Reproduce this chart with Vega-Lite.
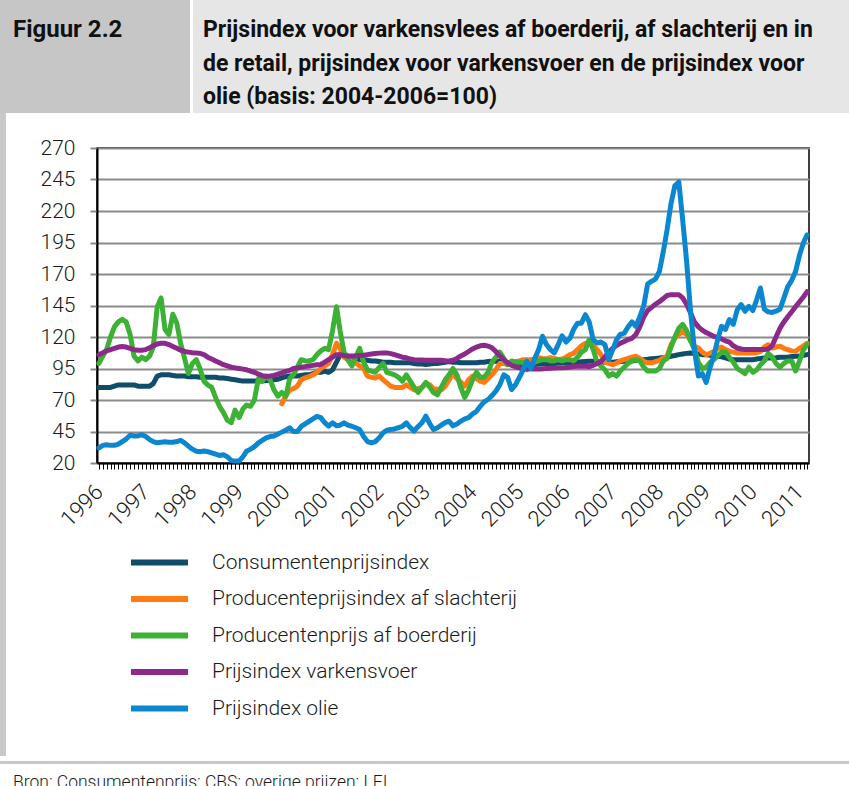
{
"$schema": "https://vega.github.io/schema/vega-lite/v6.json",
"padding": 0,
"spacing": 0,
"config": {"view": {"stroke": null}, "font": "Roboto", "concat": {"spacing": 0}},
"datasets": {"m": [
{"d":"1996-01","c":80,"g":99,"p":106,"b":32},
{"d":"1996-02","c":80,"g":105,"p":107.5,"b":34},
{"d":"1996-03","c":80,"g":110,"p":109,"b":34.5},
{"d":"1996-04","c":80,"g":120,"p":110,"b":34},
{"d":"1996-05","c":81,"g":128,"p":111,"b":34},
{"d":"1996-06","c":82,"g":132,"p":112,"b":35},
{"d":"1996-07","c":82,"g":134,"p":112.5,"b":37},
{"d":"1996-08","c":82,"g":132,"p":112,"b":39},
{"d":"1996-09","c":82,"g":122,"p":111,"b":42},
{"d":"1996-10","c":82,"g":105,"p":110,"b":41.5},
{"d":"1996-11","c":81,"g":101,"p":109.5,"b":41.5},
{"d":"1996-12","c":81,"g":104,"p":109.5,"b":42.5},
{"d":"1997-01","c":81,"g":102,"p":110,"b":41},
{"d":"1997-02","c":81,"g":105,"p":111.5,"b":38.6},
{"d":"1997-03","c":83,"g":112,"p":113,"b":37},
{"d":"1997-04","c":89,"g":144,"p":114.5,"b":36},
{"d":"1997-05","c":90,"g":151,"p":115,"b":36.5},
{"d":"1997-06","c":90,"g":126,"p":115,"b":36.8},
{"d":"1997-07","c":90,"g":122,"p":114,"b":36.5},
{"d":"1997-08","c":89.5,"g":138,"p":112.5,"b":36.5},
{"d":"1997-09","c":89,"g":131,"p":111,"b":37},
{"d":"1997-10","c":89,"g":115,"p":109.5,"b":38},
{"d":"1997-11","c":89,"g":103,"p":108.5,"b":36},
{"d":"1997-12","c":88.5,"g":91,"p":108,"b":33.4},
{"d":"1998-01","c":88.5,"g":99,"p":107.5,"b":31},
{"d":"1998-02","c":88.5,"g":102,"p":107.3,"b":29.4},
{"d":"1998-03","c":88,"g":95,"p":107,"b":29},
{"d":"1998-04","c":88,"g":85,"p":106,"b":29.5},
{"d":"1998-05","c":88,"g":82,"p":104,"b":29},
{"d":"1998-06","c":88,"g":80,"p":102.5,"b":28},
{"d":"1998-07","c":88,"g":72,"p":101,"b":27},
{"d":"1998-08","c":87.5,"g":65,"p":99.5,"b":26},
{"d":"1998-09","c":87.5,"g":60,"p":98,"b":26.5},
{"d":"1998-10","c":87,"g":54,"p":97,"b":25},
{"d":"1998-11","c":86.5,"g":52,"p":96,"b":22},
{"d":"1998-12","c":86,"g":62,"p":95.5,"b":21.5},
{"d":"1999-01","c":85.5,"g":56,"p":95,"b":21.5},
{"d":"1999-02","c":85,"g":63,"p":94.5,"b":25},
{"d":"1999-03","c":85,"g":66,"p":94,"b":29.4},
{"d":"1999-04","c":85,"g":65,"p":93,"b":31},
{"d":"1999-05","c":85,"g":70,"p":92,"b":33},
{"d":"1999-06","c":85,"g":87,"p":90.5,"b":36},
{"d":"1999-07","c":85,"g":85,"p":89.3,"b":38},
{"d":"1999-08","c":85.5,"g":89,"p":88.7,"b":40},
{"d":"1999-09","c":85.5,"g":86,"p":89,"b":41},
{"d":"1999-10","c":86,"g":78,"p":89.5,"b":41.5},
{"d":"1999-11","c":86.5,"g":73,"p":90.5,"b":43},
{"d":"1999-12","c":87.5,"o":67,"g":76,"p":91.5,"b":44.5},
{"d":"2000-01","c":88.5,"o":73,"g":73,"p":92.7,"b":46},
{"d":"2000-02","c":89,"o":78,"g":87,"p":93.5,"b":47.9},
{"d":"2000-03","c":89,"o":79,"g":90,"p":95,"b":45},
{"d":"2000-04","c":89,"o":81,"g":96,"p":95.5,"b":45},
{"d":"2000-05","c":89.5,"o":86,"g":102,"p":96,"b":49},
{"d":"2000-06","c":90,"o":87.6,"g":101,"p":96.5,"b":51},
{"d":"2000-07","c":90,"o":88.5,"g":101,"p":97,"b":53},
{"d":"2000-08","c":91,"o":90,"g":102,"p":97.5,"b":55},
{"d":"2000-09","c":92,"o":92,"g":106,"p":98,"b":57},
{"d":"2000-10","c":92,"o":95,"g":109,"p":98.2,"b":56},
{"d":"2000-11","c":93,"o":97,"g":111,"p":100,"b":52},
{"d":"2000-12","c":92,"o":99,"g":110,"p":102,"b":49.2},
{"d":"2001-01","c":94,"o":106,"g":125,"p":104,"b":51.9},
{"d":"2001-02","c":100,"o":115,"g":144,"p":106,"b":49.5},
{"d":"2001-03","c":106,"o":111,"g":125,"p":106,"b":50},
{"d":"2001-04","c":105,"o":104,"g":108,"p":105.3,"b":51.9},
{"d":"2001-05","c":105,"o":102,"g":102,"p":104.8,"b":50},
{"d":"2001-06","c":104,"o":101,"g":97,"p":105,"b":49.2},
{"d":"2001-07","c":103,"o":99.5,"g":104,"p":105,"b":48},
{"d":"2001-08","c":102,"o":97,"g":111,"p":105.3,"b":46.6},
{"d":"2001-09","c":102,"o":95,"g":100,"p":105.5,"b":41},
{"d":"2001-10","c":101.5,"o":89,"g":94,"p":106,"b":37},
{"d":"2001-11","c":101,"o":88,"g":93,"p":106.5,"b":36},
{"d":"2001-12","c":101,"o":87.5,"g":92,"p":106.9,"b":37},
{"d":"2002-01","c":100.5,"o":89,"g":96,"p":107.2,"b":40},
{"d":"2002-02","c":100,"o":86,"g":99,"p":107.4,"b":44},
{"d":"2002-03","c":100,"o":83.6,"g":92,"p":107.4,"b":46},
{"d":"2002-04","c":100,"o":81,"g":91,"p":106.8,"b":46.6},
{"d":"2002-05","c":99.5,"o":80,"g":90,"p":106,"b":47},
{"d":"2002-06","c":99.5,"o":80,"g":88,"p":105,"b":48},
{"d":"2002-07","c":99.5,"o":80,"g":85,"p":104,"b":49},
{"d":"2002-08","c":99.5,"o":82,"g":90,"p":103.5,"b":51.9},
{"d":"2002-09","c":99.5,"o":80,"g":85,"p":102.5,"b":48},
{"d":"2002-10","c":99,"o":78,"g":80,"p":102,"b":45.3},
{"d":"2002-11","c":98.5,"o":79,"g":76,"p":101.8,"b":49},
{"d":"2002-12","c":98.5,"o":80,"g":80,"p":101.7,"b":52},
{"d":"2003-01","c":98.2,"o":83,"g":84,"p":101.6,"b":57.2},
{"d":"2003-02","c":98.5,"o":82,"g":80,"p":101.6,"b":51},
{"d":"2003-03","c":99,"o":79,"g":76,"p":101.6,"b":46.6},
{"d":"2003-04","c":99,"o":78.5,"g":74,"p":101.6,"b":48},
{"d":"2003-05","c":99.5,"o":78,"g":80,"p":101.5,"b":50},
{"d":"2003-06","c":100,"o":81,"g":86,"p":101.2,"b":52},
{"d":"2003-07","c":100.5,"o":86,"g":90,"p":101,"b":53.2},
{"d":"2003-08","c":100,"o":91,"g":95,"p":101.6,"b":49.5},
{"d":"2003-09","c":100,"o":87,"g":90,"p":103,"b":51},
{"d":"2003-10","c":99.5,"o":84,"g":80,"p":105,"b":53.2},
{"d":"2003-11","c":99.5,"o":81,"g":72,"p":106.5,"b":55},
{"d":"2003-12","c":99.5,"o":86,"g":78,"p":108.5,"b":56},
{"d":"2004-01","c":99.5,"o":89,"g":86,"p":110.5,"b":59},
{"d":"2004-02","c":99.5,"o":87,"g":92,"p":112,"b":61},
{"d":"2004-03","c":100,"o":85,"g":88,"p":113,"b":65},
{"d":"2004-04","c":100,"o":84,"g":88,"p":113.5,"b":68.5},
{"d":"2004-05","c":100.5,"o":87,"g":92,"p":112.8,"b":70.4},
{"d":"2004-06","c":100.8,"o":90,"g":100,"p":111.4,"b":73.5},
{"d":"2004-07","c":100.8,"o":94,"g":104,"p":108.5,"b":77},
{"d":"2004-08","c":100.5,"o":99,"g":108,"p":105,"b":82},
{"d":"2004-09","c":100,"o":99,"g":103,"p":102,"b":90},
{"d":"2004-10","c":99.5,"o":98,"g":98,"p":99.5,"b":88},
{"d":"2004-11","c":99.5,"o":99.5,"g":101,"p":97.5,"b":78.3},
{"d":"2004-12","c":99,"o":100.5,"g":100,"p":96.5,"b":82},
{"d":"2005-01","c":98.5,"o":101,"g":100,"p":95.5,"b":88},
{"d":"2005-02","c":98.5,"o":102,"g":100,"p":95,"b":94},
{"d":"2005-03","c":98.2,"o":102,"g":94,"p":94.8,"b":100.8},
{"d":"2005-04","c":98.2,"o":102,"g":97,"p":94.7,"b":95},
{"d":"2005-05","c":98.2,"o":102.5,"g":100,"p":94.7,"b":103},
{"d":"2005-06","c":98.5,"o":103.5,"g":101,"p":94.7,"b":110},
{"d":"2005-07","c":98.5,"o":103,"g":102,"p":94.7,"b":120.6},
{"d":"2005-08","c":99,"o":102.7,"g":102,"p":95,"b":114},
{"d":"2005-09","c":99,"o":103.5,"g":101,"p":95.2,"b":110},
{"d":"2005-10","c":99,"o":103,"g":101,"p":95.4,"b":107.4},
{"d":"2005-11","c":99.5,"o":102,"g":102,"p":95.5,"b":114},
{"d":"2005-12","c":99.5,"o":102.5,"g":101,"p":95.5,"b":121},
{"d":"2006-01","c":99.5,"o":104,"g":102,"p":95.8,"b":116},
{"d":"2006-02","c":99.7,"o":106,"g":102,"p":96.2,"b":119},
{"d":"2006-03","c":100,"o":107,"g":101,"p":96.6,"b":126},
{"d":"2006-04","c":100,"o":110,"g":104,"p":96.7,"b":131},
{"d":"2006-05","c":100.3,"o":113,"g":108,"p":96.7,"b":131},
{"d":"2006-06","c":100.5,"o":115,"g":110,"p":96.7,"b":137.7},
{"d":"2006-07","c":100.7,"o":115,"g":118,"p":96.5,"b":132},
{"d":"2006-08","c":100.7,"o":113,"g":110,"p":97.5,"b":118},
{"d":"2006-09","c":100.5,"o":110,"g":100,"p":99,"b":115.2},
{"d":"2006-10","c":100.3,"o":106,"g":97,"p":100.5,"b":116},
{"d":"2006-11","c":100,"o":100,"g":94,"p":104,"b":114},
{"d":"2006-12","c":100,"o":99,"g":89,"p":108,"b":102},
{"d":"2007-01","c":100,"o":98,"g":91,"p":111,"b":110},
{"d":"2007-02","c":100.3,"o":99.4,"g":89,"p":113.5,"b":118},
{"d":"2007-03","c":100.5,"o":101,"g":93,"p":115,"b":122},
{"d":"2007-04","c":100.7,"o":102,"g":96,"p":116.5,"b":123},
{"d":"2007-05","c":100.7,"o":103,"g":99,"p":118,"b":128},
{"d":"2007-06","c":101,"o":104,"g":101,"p":119,"b":132},
{"d":"2007-07","c":101.5,"o":104.7,"g":102,"p":122,"b":128.5},
{"d":"2007-08","c":102,"o":103,"g":101,"p":128,"b":136},
{"d":"2007-09","c":102,"o":100.7,"g":96,"p":136,"b":145},
{"d":"2007-10","c":102.3,"o":99.5,"g":93,"p":141,"b":162},
{"d":"2007-11","c":102.7,"o":99.5,"g":93,"p":143.5,"b":164.2},
{"d":"2007-12","c":103,"o":100.5,"g":93,"p":146,"b":166},
{"d":"2008-01","c":103.3,"o":101.5,"g":95,"p":148,"b":172},
{"d":"2008-02","c":103.7,"o":103.5,"g":101,"p":150.5,"b":188},
{"d":"2008-03","c":104,"o":104.7,"g":103,"p":153,"b":205},
{"d":"2008-04","c":104.7,"o":113.9,"g":112,"p":153.6,"b":226},
{"d":"2008-05","c":105.3,"o":119,"g":120,"p":153.6,"b":240},
{"d":"2008-06","c":106,"o":122,"g":127,"p":153.6,"b":243},
{"d":"2008-07","c":106.5,"o":124.5,"g":130,"p":151,"b":213},
{"d":"2008-08","c":107,"o":122,"g":125,"p":146,"b":180},
{"d":"2008-09","c":107.3,"o":117,"g":117,"p":139,"b":140},
{"d":"2008-10","c":107,"o":112.6,"g":110,"p":132,"b":110},
{"d":"2008-11","c":106.5,"o":111.3,"g":100,"p":128,"b":89},
{"d":"2008-12","c":106,"o":108,"g":95,"p":125.5,"b":91},
{"d":"2009-01","c":106,"o":106,"g":96,"p":123.5,"b":84},
{"d":"2009-02","c":105.5,"o":107,"g":100,"p":122,"b":96},
{"d":"2009-03","c":105,"o":108.6,"g":102,"p":120.5,"b":104.7},
{"d":"2009-04","c":104.7,"o":111,"g":105,"p":119.5,"b":118},
{"d":"2009-05","c":104.3,"o":112,"g":108,"p":118.5,"b":128.5},
{"d":"2009-06","c":103.5,"o":110,"g":108,"p":117,"b":126},
{"d":"2009-07","c":102.5,"o":108.6,"g":104,"p":116,"b":133.8},
{"d":"2009-08","c":102,"o":108,"g":100,"p":113,"b":130},
{"d":"2009-09","c":102,"o":107.3,"g":95,"p":111.3,"b":141.7},
{"d":"2009-10","c":102,"o":107.3,"g":93,"p":110.5,"b":145.7},
{"d":"2009-11","c":102,"o":107.3,"g":91,"p":110,"b":140.4},
{"d":"2009-12","c":102,"o":107.3,"g":96,"p":110,"b":144.3},
{"d":"2010-01","c":102,"o":107.3,"g":92,"p":110,"b":141},
{"d":"2010-02","c":102.5,"o":107.5,"g":94,"p":110,"b":150},
{"d":"2010-03","c":103,"o":108.6,"g":98,"p":110,"b":158.9},
{"d":"2010-04","c":103.3,"o":112,"g":101,"p":110,"b":142},
{"d":"2010-05","c":103.3,"o":113.9,"g":107,"p":110.5,"b":140},
{"d":"2010-06","c":103.3,"o":111.3,"g":104,"p":113,"b":139.5},
{"d":"2010-07","c":103.5,"o":112,"g":99,"p":120,"b":140.5},
{"d":"2010-08","c":104,"o":112.6,"g":96,"p":127,"b":142},
{"d":"2010-09","c":104,"o":111,"g":99,"p":132,"b":151},
{"d":"2010-10","c":104,"o":110,"g":101,"p":136,"b":160},
{"d":"2010-11","c":104.5,"o":109,"g":101,"p":140,"b":165},
{"d":"2010-12","c":104.7,"o":108.6,"g":93,"p":144,"b":172},
{"d":"2011-01","c":105,"o":111,"g":101,"p":148,"b":185},
{"d":"2011-02","c":105.5,"o":113,"g":110,"p":152,"b":195},
{"d":"2011-03","c":106,"o":115,"g":114,"p":156,"b":201}
]},
"vconcat": [
 {"hconcat": [
   {"width": 190, "height": 113, "view": {"fill": "#c6c6c6", "stroke": null},
    "data": {"values": [{"t": "Figuur 2.2", "r": 1}]},
    "mark": {"type": "text", "align": "left", "baseline": "middle", "dx": 13, "fontSize": 24, "fontWeight": "bold", "color": "#111111"},
    "encoding": {
      "text": {"field": "t"},
      "x": {"datum": 0, "type": "quantitative", "scale": {"domain": [0, 1]}, "axis": null},
      "y": {"field": "r", "type": "ordinal", "scale": {"type": "point", "domain": [1, 2, 3], "range": [30, 97], "padding": 0}, "axis": null}
    }},
   {"width": 656, "height": 113, "view": {"fill": "#e6e6e6", "stroke": null},
    "data": {"values": [
      {"t": "Prijsindex voor varkensvlees af boerderij, af slachterij en in", "r": 1},
      {"t": "de retail, prijsindex voor varkensvoer en de prijsindex voor", "r": 2},
      {"t": "olie (basis: 2004-2006=100)", "r": 3}
    ]},
    "mark": {"type": "text", "align": "left", "baseline": "middle", "dx": 10, "fontSize": 23, "fontWeight": "bold", "color": "#111111"},
    "encoding": {
      "text": {"field": "t"},
      "x": {"datum": 0, "type": "quantitative", "scale": {"domain": [0, 1]}, "axis": null},
      "y": {"field": "r", "type": "ordinal", "scale": {"type": "point", "domain": [1, 2, 3], "range": [30, 97], "padding": 0}, "axis": null}
    }}
  ], "spacing": 3},
 {"hconcat": [
   {"width": 6, "height": 643, "view": {"fill": "#c8c8c8", "stroke": null},
    "data": {"values": [{}]}, "mark": "text", "encoding": {}},
   {"vconcat": [
     {"width": 10, "height": 23, "data": {"values": [{}]}, "mark": "text", "encoding": {}},
     {"width": 712, "height": 315,
      "data": {"name": "m"},
      "transform": [{"fold": ["c", "o", "g", "p", "b"], "as": ["s", "v"]}],
      "view": {"stroke": "#000000", "strokeWidth": 1.5},
      "mark": {"type": "line", "strokeWidth": 5, "strokeJoin": "round", "strokeCap": "round"},
      "encoding": {
        "x": {"field": "d", "type": "temporal",
          "scale": {"type": "utc", "domain": [{"year": 1995, "month": 12, "date": 17, "utc": true}, {"year": 2011, "month": 3, "date": 16, "utc": true}]},
          "axis": {"title": null, "tickCount": {"interval": "month", "step": 1},
            "labelExpr": "utcmonth(datum.value) == 0 ? utcFormat(datum.value, '%Y') : ''",
            "labelAngle": -45, "labelAlign": "right", "labelBaseline": "middle",
            "labelFontSize": 22, "labelFontWeight": 300, "labelColor": "#1a1a1a", "labelOverlap": false, "labelBound": false, "labelFlush": false,
            "labelPadding": 19, "tickSize": 6, "tickColor": "#000000", "tickWidth": 1,
            "domainColor": "#000000", "domainWidth": 2, "grid": false}},
        "y": {"field": "v", "type": "quantitative",
          "scale": {"domain": [20, 270], "nice": false, "zero": false},
          "axis": {"title": null, "values": [20, 45, 70, 95, 120, 145, 170, 195, 220, 245, 270],
            "grid": true, "gridColor": "#8c8c8c", "gridWidth": 2,
            "tickSize": 7, "tickColor": "#8c8c8c", "tickWidth": 2,
            "domainColor": "#000000", "domainWidth": 2,
            "labelFontSize": 21, "labelFontWeight": 300, "labelPadding": 15, "labelColor": "#1a1a1a",
            "minExtent": 90, "maxExtent": 90}},
        "color": {"field": "s", "type": "nominal",
          "scale": {"domain": ["c", "o", "g", "p", "b"], "range": ["#0f4d6b", "#ff7a10", "#3cb136", "#8c2a8c", "#0a87cf"]},
          "legend": {"title": null, "orient": "none", "legendX": 147, "legendY": 550, "direction": "vertical",
            "symbolType": "M-3,0H3", "symbolSize": 361, "symbolStrokeWidth": 6,
            "labelFontSize": 21, "labelFontWeight": 300, "labelColor": "#1a1a1a", "labelOffset": 40, "rowPadding": 11.5, "padding": 0, "labelLimit": 0,
            "labelExpr": "datum.label == 'c' ? 'Consumentenprijsindex' : datum.label == 'o' ? 'Producenteprijsindex af slachterij' : datum.label == 'g' ? 'Producentenprijs af boerderij' : datum.label == 'p' ? 'Prijsindex varkensvoer' : 'Prijsindex olie'"}}
      }}
   ], "spacing": 0}
  ], "spacing": 0},
 {"width": 849, "height": 3, "view": {"fill": "#c8c8c8", "stroke": null},
  "data": {"values": [{}]}, "mark": "text", "encoding": {}},
 {"width": 849, "height": 27,
  "data": {"values": [{"t": "Bron: Consumentenprijs: CBS; overige prijzen: LEI."}]},
  "mark": {"type": "text", "align": "left", "baseline": "alphabetic", "dx": 13, "dy": 6, "fontSize": 17.5, "fontWeight": 300, "color": "#1a1a1a"},
  "encoding": {
    "text": {"field": "t"},
    "x": {"datum": 0, "type": "quantitative", "scale": {"domain": [0, 1]}, "axis": null}
  }}
]
}
